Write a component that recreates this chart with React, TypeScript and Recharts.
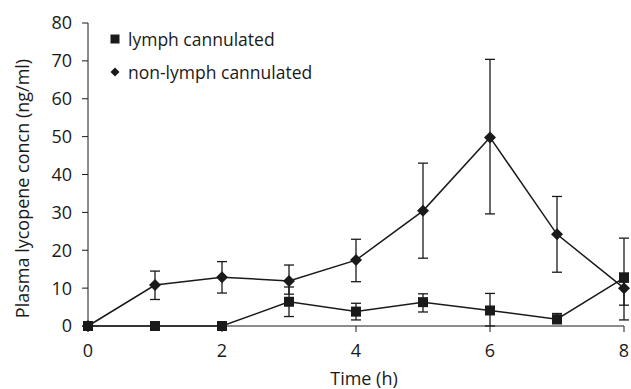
import React from 'react';
import { ComposedChart, Line, XAxis, YAxis, ErrorBar } from 'recharts';

const times = [0, 1, 2, 3, 4, 5, 6, 7, 8];

const lymph = [0, 0, 0, 6.4, 3.8, 6.3, 4.1, 1.8, 12.7];
const lymphLow = [0, 0, 0, 2.5, 1.6, 3.7, 0, 0.6, 5.5];
const lymphHigh = [0, 0, 0, 10.3, 6.0, 8.5, 8.6, 3.3, 14.0];

const nonLymph = [0, 10.8, 12.9, 11.9, 17.4, 30.4, 49.8, 24.2, 10];
const nonLymphLow = [0, 7.0, 8.7, 8.4, 11.7, 17.9, 29.6, 14.2, 1.6];
const nonLymphHigh = [0, 14.5, 17.0, 16.1, 22.9, 43.0, 70.4, 34.2, 23.2];

const xTicks = [0, 2, 4, 6, 8];
const yTicks = [0, 10, 20, 30, 40, 50, 60, 70, 80];

const data = times.map((t, i) => ({
  time: t,
  lymph: lymph[i],
  lymphErr: [lymph[i] - lymphLow[i], lymphHigh[i] - lymph[i]],
  nonLymph: nonLymph[i],
  nonLymphErr: [nonLymph[i] - nonLymphLow[i], nonLymphHigh[i] - nonLymph[i]],
}));

const font = '"Open Sans", sans-serif';
const ink = '#1a1a1a';

const SquareDot = (props: any) => {
  const { cx, cy } = props;
  if (cx == null || cy == null) return null;
  return <rect x={cx - 5} y={cy - 5} width={10} height={10} fill={ink} />;
};

const DiamondDot = (props: any) => {
  const { cx, cy } = props;
  if (cx == null || cy == null) return null;
  return <path d={`M${cx},${cy - 6}L${cx + 6},${cy}L${cx},${cy + 6}L${cx - 6},${cy}Z`} fill={ink} />;
};

// legend drawn as a plain overlay so it doesn't take space from the plot
const LegendBox = () => (
  <svg width={240} height={60} style={{ position: 'absolute', left: 110, top: 27, fontFamily: font }}>
    <rect x={0.5} y={7.5} width={9} height={9} fill={ink} />
    <text x={18} y={12} fontSize={17.5} fill={ink} dominantBaseline="central">lymph cannulated</text>
    <path d="M5,40.5L9.5,45L5,49.5L0.5,45Z" fill={ink} />
    <text x={18} y={45} fontSize={17.5} fill={ink} dominantBaseline="central">non-lymph cannulated</text>
  </svg>
);

const YTitle = (props: any) => {
  const vb = props.viewBox || {};
  const cx = 22;
  const cy = (vb.y ?? 23) + (vb.height ?? 303) / 2 + 14;
  return (
    <text
      x={cx}
      y={cy}
      transform={`rotate(-90 ${cx} ${cy})`}
      textAnchor="middle"
      dominantBaseline="central"
      fontSize={18}
      fontFamily={font}
      fill={ink}
    >
      Plasma lycopene concn (ng/ml)
    </text>
  );
};

const XTitle = (props: any) => {
  const vb = props.viewBox || {};
  const cx = (vb.x ?? 88) + (vb.width ?? 536) / 2 + 8;
  return (
    <text x={cx} y={385} textAnchor="middle" fontSize={18} fontFamily={font} fill={ink}>
      Time (h)
    </text>
  );
};

export default function App() {
  return (
    <div style={{ position: 'absolute', left: 0, top: 0, width: 631, height: 389, background: '#fff' }}>
      <ComposedChart width={631} height={389} data={data} margin={{ top: 23, right: 7, bottom: 0, left: 0 }}>
        <XAxis
          dataKey="time"
          type="number"
          domain={[0, 8]}
          ticks={xTicks}
          height={63}
          tickSize={6}
          tickMargin={12}
          stroke={ink}
          tick={{ fill: ink, fontSize: 18, fontFamily: font }}
          label={{ content: XTitle }}
        />
        <YAxis
          type="number"
          domain={[0, 80]}
          ticks={yTicks}
          width={88}
          tickSize={6}
          tickMargin={10}
          stroke={ink}
          tick={{ fill: ink, fontSize: 18, fontFamily: font }}
          label={{ content: YTitle }}
        />
        <Line
          dataKey="nonLymph"
          stroke={ink}
          strokeWidth={1.5}
          dot={<DiamondDot />}
          activeDot={false}
          isAnimationActive={false}
        >
          <ErrorBar dataKey="nonLymphErr" width={5} stroke={ink} strokeWidth={1.3} direction="y" />
        </Line>
        <Line
          dataKey="lymph"
          stroke={ink}
          strokeWidth={1.5}
          dot={<SquareDot />}
          activeDot={false}
          isAnimationActive={false}
        >
          <ErrorBar dataKey="lymphErr" width={5} stroke={ink} strokeWidth={1.3} direction="y" />
        </Line>
      </ComposedChart>
      <LegendBox />
    </div>
  );
}
